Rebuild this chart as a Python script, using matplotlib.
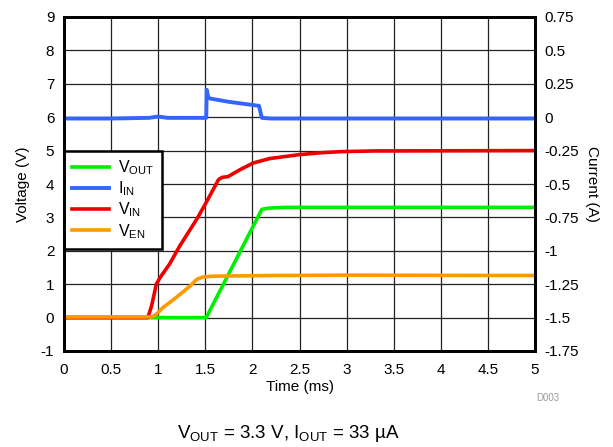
import matplotlib
matplotlib.use("Agg")
import matplotlib.pyplot as plt

plt.rcParams['font.family'] = ['Liberation Sans', 'DejaVu Sans']
plt.rcParams['mathtext.fontset'] = 'custom'
plt.rcParams['mathtext.rm'] = 'Liberation Sans'
plt.rcParams['axes.unicode_minus'] = False

# 데이터
t_vout = [0, 1.51, 2.10, 2.18, 2.35, 5.0]
vout = [0, 0, 3.24, 3.28, 3.3, 3.3]

t_vin = [0, 0.89, 0.93, 0.98, 1.02, 1.12, 1.23, 1.41, 1.51, 1.64, 1.68, 1.74,
         1.87, 2.01, 2.18, 2.5, 2.75, 2.95, 3.3, 5.0]
vin = [0, 0, 0.35, 1.0, 1.2, 1.6, 2.15, 2.95, 3.45, 4.13, 4.2, 4.22,
       4.43, 4.63, 4.76, 4.88, 4.94, 4.97, 4.99, 5.0]

t_ven = [0, 0.93, 0.98, 1.05, 1.19, 1.34, 1.41, 1.48, 1.6, 2.2, 3.0, 5.0]
ven = [0.02, 0.02, 0.1, 0.3, 0.6, 0.95, 1.15, 1.22, 1.24, 1.26, 1.27, 1.26]

t_iin = [0, 0.5, 0.9, 1.0, 1.1, 1.51, 1.515, 1.53, 1.55, 1.75, 2.07, 2.1, 2.2, 5.0]
iin = [-0.01, -0.01, -0.005, 0.005, -0.005, -0.005, 0.205, 0.15, 0.14, 0.115, 0.085, -0.005, -0.01, -0.01]

v_ticks = [-1, 0, 1, 2, 3, 4, 5, 6, 7, 8, 9]
i_ticks = [-1.75, -1.5, -1.25, -1, -0.75, -0.5, -0.25, 0, 0.25, 0.5, 0.75]
i_labels = ['-1.75', '-1.5', '-1.25', '-1', '-0.75', '-0.5', '-0.25', '0', '0.25', '0.5', '0.75']
t_ticks = [0, 0.5, 1, 1.5, 2, 2.5, 3, 3.5, 4, 4.5, 5]
t_labels = ['0', '0.5', '1', '1.5', '2', '2.5', '3', '3.5', '4', '4.5', '5']

c_green = '#00EE00'
c_blue = '#3366FF'
c_red = '#EE0000'
c_orange = '#FF9900'

fig = plt.figure(figsize=(6.13, 4.47), dpi=100)
ax = fig.add_axes([64 / 613, 1 - 351 / 447, (535 - 64) / 613, (351 - 17) / 447])
ax2 = ax.twinx()

l1, = ax.plot(t_vout, vout, color=c_green, lw=2.6)
l3, = ax.plot(t_vin, vin, color=c_red, lw=2.6)
l4, = ax.plot(t_ven, ven, color=c_orange, lw=2.6)
l2, = ax2.plot(t_iin, iin, color=c_blue, lw=2.8)

ax.set_xlim(0, 5)
ax.set_ylim(-1, 9)
ax2.set_ylim(-1.75, 0.75)
ax.set_xticks(t_ticks)
ax.set_xticklabels(t_labels)
ax.set_yticks(v_ticks)
ax2.set_yticks(i_ticks)
ax2.set_yticklabels(i_labels)

ax.grid(True, color='#222222', lw=0.9)
ax.set_axisbelow(True)
for a in (ax, ax2):
    for s in a.spines.values():
        s.set_linewidth(2)
    a.tick_params(length=0, labelsize=11, pad=7)
ax.tick_params(axis='x', pad=9)

ax.set_xlabel('Time (ms)', fontsize=11, labelpad=2)
ax.set_ylabel('Voltage (V)', fontsize=11, labelpad=8)
ax2.set_ylabel('Current (A)', fontsize=11, rotation=270, labelpad=14)

leg = ax.legend([l1, l2, l3, l4],
                [r'$\mathregular{V_{OUT}}$', r'$\mathregular{I_{IN}}$',
                 r'$\mathregular{V_{IN}}$', r'$\mathregular{V_{EN}}$'],
                loc='upper left', bbox_to_anchor=(0, 0.6), borderaxespad=0,
                fontsize=11.5, fancybox=False, framealpha=1, edgecolor='black',
                handlelength=2.3, labelspacing=0.15, handletextpad=0.6, borderpad=0.5)
leg.get_frame().set_linewidth(1.8)
leg.set_zorder(5)

fig.text(548 / 613, 1 - 398 / 447, 'D003', fontsize=7, color='#999999', ha='center', va='center')
fig.text(288 / 613, 1 - 433 / 447, r'$\mathregular{V_{OUT}}$ = 3.3 V, $\mathregular{I_{OUT}}$ = 33 µA',
         fontsize=13.5, ha='center', va='center')

fig.savefig('out.png', dpi=100)
